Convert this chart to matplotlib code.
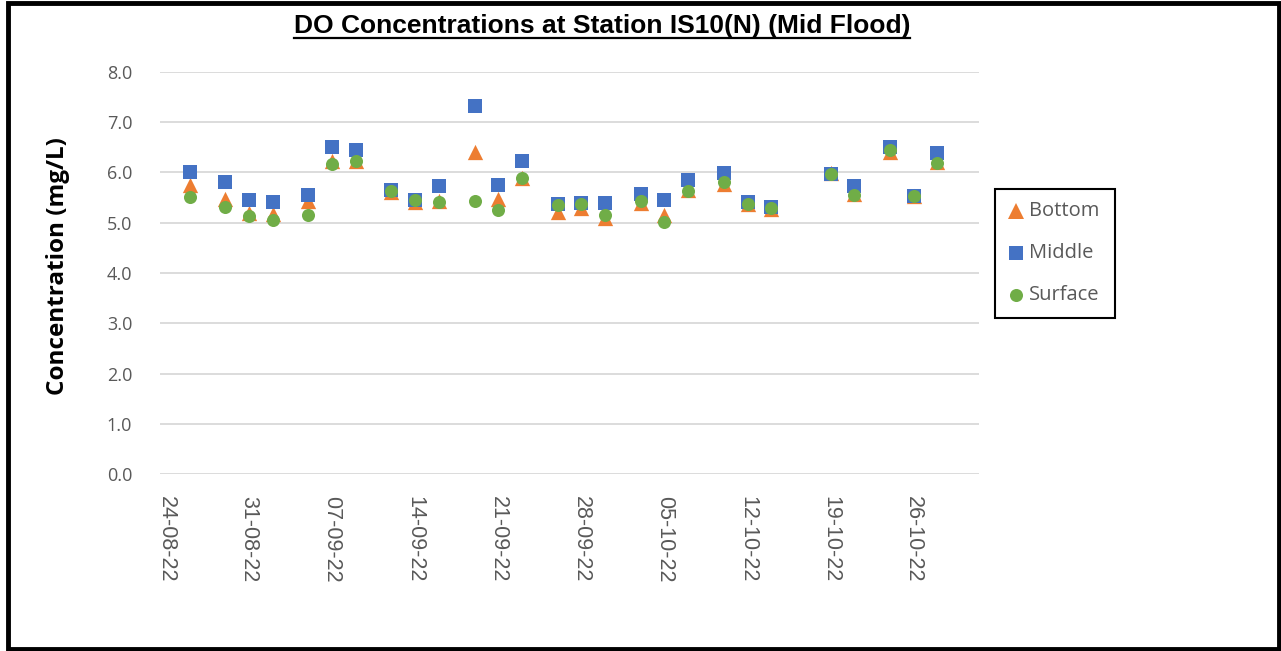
import matplotlib
matplotlib.use("Agg")
import matplotlib.pyplot as plt
import matplotlib.dates as mdates
from matplotlib.lines import Line2D
from matplotlib.patches import Rectangle
import numpy as np
import datetime as dt

dates = ["2022-08-26", "2022-08-29", "2022-08-31", "2022-09-02", "2022-09-05",
         "2022-09-07", "2022-09-09", "2022-09-12", "2022-09-14", "2022-09-16",
         "2022-09-19", "2022-09-21", "2022-09-23", "2022-09-26", "2022-09-28",
         "2022-09-30", "2022-10-03", "2022-10-05", "2022-10-07", "2022-10-10",
         "2022-10-12", "2022-10-14", "2022-10-19", "2022-10-21", "2022-10-24",
         "2022-10-26", "2022-10-28"]
bottom = [5.74, 5.47, 5.19, 5.17, 5.42, 6.23, 6.23, 5.61, 5.40, 5.42,
          6.40, 5.46, 5.88, 5.22, 5.30, 5.09, 5.38, 5.15, 5.65, 5.76,
          5.37, 5.28, 5.98, 5.57, 6.40, 5.52, 6.21]
middle = [6.01, 5.81, 5.44, 5.40, 5.55, 6.50, 6.44, 5.65, 5.45, 5.73,
          7.32, 5.75, 6.22, 5.36, 5.38, 5.38, 5.57, 5.44, 5.85, 5.98,
          5.40, 5.32, 5.96, 5.73, 6.50, 5.53, 6.39]
surface = [5.50, 5.32, 5.13, 5.05, 5.16, 6.16, 6.23, 5.63, 5.44, 5.40,
           5.42, 5.26, 5.88, 5.34, 5.37, 5.15, 5.42, 5.02, 5.63, 5.81,
           5.36, 5.30, 5.97, 5.54, 6.44, 5.53, 6.18]
tick_dates = ["2022-08-24", "2022-08-31", "2022-09-07", "2022-09-14", "2022-09-21",
              "2022-09-28", "2022-10-05", "2022-10-12", "2022-10-19", "2022-10-26"]
x_start = "2022-08-24"
x_end = "2022-10-31"
y_ticks = [0.0, 1.0, 2.0, 3.0, 4.0, 5.0, 6.0, 7.0, 8.0]

W, H = 1281, 651
fig = plt.figure(figsize=(W / 100, H / 100), dpi=100)
fig.patch.set_facecolor("white")

def px(x0, y0, x1, y1):
    return [x0 / W, 1 - y1 / H, (x1 - x0) / W, (y1 - y0) / H]

ax = fig.add_axes(px(160, 71.7, 979, 474.1))

xd = mdates.datestr2num(dates)
xt = mdates.datestr2num(tick_dates)

c_b = "#ED7D31"
c_m = "#4472C4"
c_s = "#70AD47"

ax.scatter(xd, bottom, marker="^", s=11.0 ** 2, color=c_b, linewidths=0, zorder=3)
ax.scatter(xd, middle, marker="s", s=10.6 ** 2, color=c_m, linewidths=0, zorder=4)
ax.scatter(xd, surface, marker="o", s=9.4 ** 2, color=c_s, linewidths=0, zorder=5)

ax.set_xlim(mdates.datestr2num(x_start) - 0.5, mdates.datestr2num(x_end) + 0.5)
ax.set_ylim(0, 8)
ax.set_yticks(y_ticks)
ax.set_yticklabels([f"{v:.1f}" for v in y_ticks], fontfamily="Open Sans",
                   fontsize=13, color="#595959")
ax.set_xticks(xt)
ax.set_xticklabels([mdates.num2date(t).strftime("%d-%m-%y") for t in xt],
                   rotation=-90, fontfamily="Liberation Sans", fontsize=15.5,
                   color="#595959", va="top", ha="center")
ax.tick_params(axis="both", length=0)
ax.tick_params(axis="x", pad=16)
ax.tick_params(axis="y", pad=20)
ax.grid(axis="y", color="#D9D9D9", linewidth=1.3, zorder=0)
ax.set_axisbelow(True)
for s in ["left", "right", "top", "bottom"]:
    ax.spines[s].set_visible(False)

fig.text(58 / W, 1 - 266 / H, "Concentration (mg/L)", rotation=90,
         fontfamily="Open Sans", fontweight="bold", fontsize=17.5,
         ha="center", va="center", color="black")

title = fig.text(602 / W, 1 - 26 / H, "DO Concentrations at Station IS10(N) (Mid Flood)",
                 fontfamily="Liberation Sans",
                 fontweight="bold", fontsize=19, ha="center", va="center", color="black")
fig.canvas.draw()
bb = title.get_window_extent()
uy = H - 38
fig.add_artist(Line2D([bb.x0 / W, bb.x1 / W], [uy / H, uy / H], color="black",
                      linewidth=1.6, transform=fig.transFigure))

# legend
lx0, ly0, lx1, ly1 = 995, 189, 1115, 318
fig.add_artist(Rectangle((lx0 / W, 1 - ly1 / H), (lx1 - lx0) / W, (ly1 - ly0) / H,
                         transform=fig.transFigure, fill=False, edgecolor="black",
                         linewidth=1.5))
entries = [("Bottom", "^", c_b, 11.0, 211), ("Middle", "s", c_m, 10.6, 253),
           ("Surface", "o", c_s, 9.4, 295)]
for lab, mk, col, ms, yy in entries:
    fig.add_artist(Line2D([1016 / W], [1 - yy / H], marker=mk, markersize=ms,
                          color=col, markeredgewidth=0, linestyle="none",
                          transform=fig.transFigure))
    fig.text(1029 / W, 1 - yy / H, lab, fontfamily="Open Sans", fontsize=14.5,
             color="#595959", ha="left", va="center")

# outer border
fig.add_artist(Rectangle((7.5 / W, 2.5 / H), (W - 10) / W, (H - 5) / H,
                         transform=fig.transFigure, fill=False, edgecolor="black",
                         linewidth=3.5))

fig.savefig("out.png", dpi=100, facecolor="white")
